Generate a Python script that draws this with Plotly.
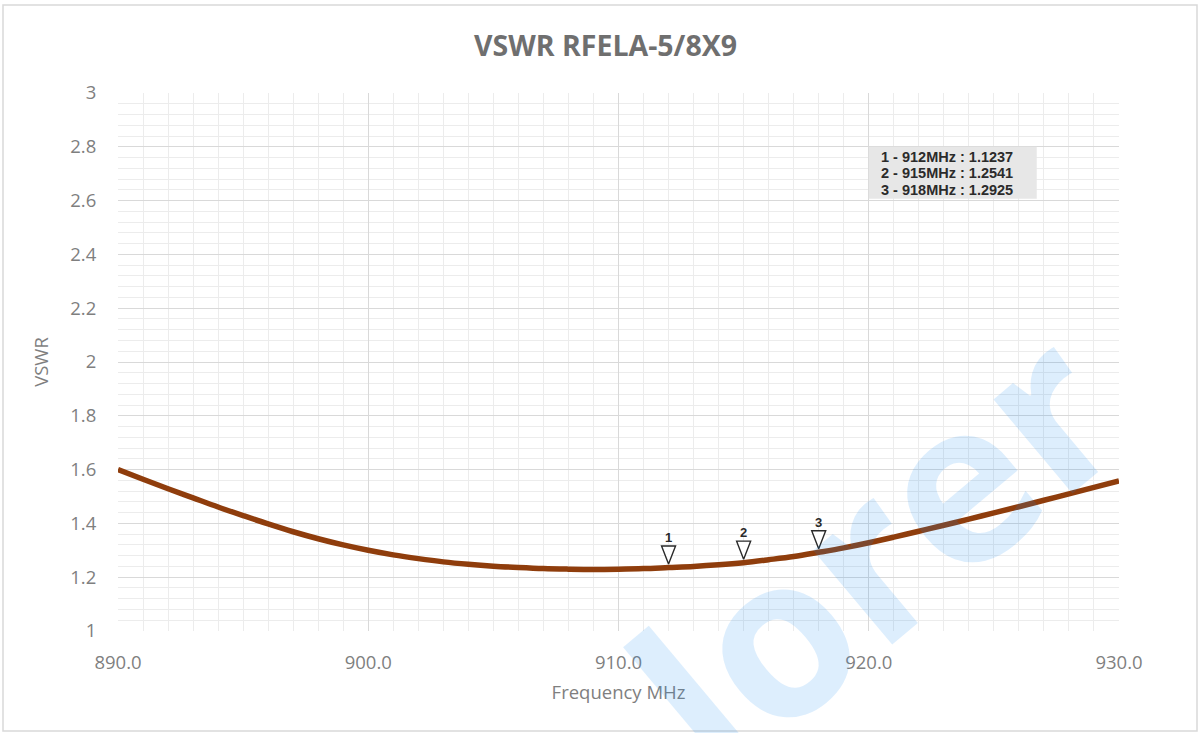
import plotly.graph_objects as go

# ---- data ----
freq_mhz = [890, 891, 892, 893, 894, 895, 896, 897, 898, 899,
            900, 901, 902, 903, 904, 905, 906, 907, 908, 909,
            910, 911, 912, 913, 914, 915, 916, 917, 918, 919,
            920, 921, 922, 923, 924, 925, 926, 927, 928, 929, 930]
vswr = [1.600, 1.564, 1.529, 1.495, 1.461, 1.429, 1.398, 1.369, 1.343, 1.320,
        1.300, 1.283, 1.269, 1.257, 1.248, 1.241, 1.236, 1.232, 1.230, 1.229,
        1.230, 1.232, 1.236, 1.240, 1.246, 1.254, 1.265, 1.277, 1.2925, 1.309,
        1.328, 1.349, 1.371, 1.393, 1.416, 1.439, 1.462, 1.486, 1.510, 1.534, 1.558]

marker_labels = ["1", "2", "3"]
marker_freq = [912, 915, 918]
marker_vswr = [1.236, 1.254, 1.2925]
marker_text = ["1 - 912MHz : 1.1237", "2 - 915MHz : 1.2541", "3 - 918MHz : 1.2925"]

x_ticks = [890, 900, 910, 920, 930]
x_ticklabels = ["890.0", "900.0", "910.0", "920.0", "930.0"]
y_ticks = [1, 1.2, 1.4, 1.6, 1.8, 2, 2.2, 2.4, 2.6, 2.8, 3]
y_ticklabels = ["1", "1.2", "1.4", "1.6", "1.8", "2", "2.2", "2.4", "2.6", "2.8", "3"]

title_text = "VSWR RFELA-5/8X9"
x_title = "Frequency MHz"
y_title = "VSWR"

# ---- figure geometry ----
W, H = 1203, 733
ml, mr, mt, mb = 118, 84, 93, 102
pw, ph = W - ml - mr, H - mt - mb
x0, x1 = 890, 930
y0, y1 = 1, 3
px_per_mhz = pw / (x1 - x0)
px_per_unit = ph / (y1 - y0)

fig = go.Figure()

fig.add_trace(go.Scatter(
    x=freq_mhz, y=vswr, mode="lines",
    line=dict(color="#8f3d0c", width=5.5, shape="spline", smoothing=1.0),
    hoverinfo="skip", showlegend=False,
))

# marker triangles (tip just above the curve), built from the marker data
tip_gap = 3.5 / px_per_unit
tri_h = 18 / px_per_unit
tri_hw = 7 / px_per_mhz
tx, ty = [], []
for f, v in zip(marker_freq, marker_vswr):
    tip = v + tip_gap
    tx += [f, f - tri_hw, f + tri_hw, f, None]
    ty += [tip, tip + tri_h, tip + tri_h, tip, None]
fig.add_trace(go.Scatter(
    x=tx, y=ty, mode="lines", fill="toself", fillcolor="white",
    line=dict(color="#2a2a2a", width=1.4),
    hoverinfo="skip", showlegend=False,
))
for lab, f, v in zip(marker_labels, marker_freq, marker_vswr):
    fig.add_annotation(
        x=f, y=v + tip_gap + tri_h, xref="x", yref="y",
        text="<b>" + lab + "</b>", showarrow=False, yanchor="bottom", yshift=-1,
        font=dict(family="Liberation Sans", size=13, color="#2a2a2a"),
    )

gray = "#7f7f7f"
tickfont = dict(family="Open Sans", size=18.5, color=gray)

fig.update_layout(
    width=W, height=H,
    margin=dict(l=ml, r=mr, t=mt, b=mb),
    paper_bgcolor="white", plot_bgcolor="white",
    title=dict(text="<b>" + title_text + "</b>",
               x=(605.5 - ml) / pw, xanchor="center", xref="paper",
               y=1 - 46 / H, yanchor="middle",
               font=dict(family="Open Sans", size=28.5, color="#6f6f6f")),
    xaxis=dict(
        range=[x0, x1], tickvals=x_ticks, ticktext=x_ticklabels,
        tickfont=tickfont, showgrid=True, gridcolor="#d9d9d9", gridwidth=1.3,
        zeroline=False, showline=False, ticks="outside", ticklen=15, tickcolor="rgba(0,0,0,0)",
        minor=dict(dtick=1, showgrid=True, gridcolor="#ececec", gridwidth=1, ticks=""),
        title=dict(text=x_title, font=dict(family="Open Sans", size=18.5, color=gray),
                   standoff=12),
    ),
    yaxis=dict(
        range=[y0, y1], tickvals=y_ticks, ticktext=y_ticklabels,
        tickfont=tickfont, showgrid=True, gridcolor="#d9d9d9", gridwidth=1.3,
        zeroline=False, showline=False, ticks="outside", ticklen=17, tickcolor="rgba(0,0,0,0)",
        minor=dict(dtick=0.04, tick0=1, showgrid=True, gridcolor="#ececec", gridwidth=1, ticks=""),
        title=dict(text=y_title, font=dict(family="Open Sans", size=18.5, color=gray),
                   standoff=16),
    ),
)

# marker values box
box_left, box_top = 920, 2.80
box_w = 168 / px_per_mhz
box_h = 52 / px_per_unit
fig.add_shape(type="rect", xref="x", yref="y",
              x0=box_left, x1=box_left + box_w, y0=box_top - box_h, y1=box_top,
              line=dict(width=0), fillcolor="#e7e7e7", layer="above")
for i, t in enumerate(marker_text):
    fig.add_annotation(
        x=box_left + 10 / px_per_mhz, y=box_top - (10 + 16.5 * i) / px_per_unit,
        xref="x", yref="y", xanchor="left", yanchor="middle",
        text="<b>" + t + "</b>", showarrow=False,
        font=dict(family="Liberation Sans", size=14.5, color="#2b2b2b"),
    )

# outer chart border
fig.add_shape(type="rect", xref="paper", yref="paper",
              x0=(3 - ml) / pw, x1=(1197 - ml) / pw,
              y0=(H - mb - 731) / ph, y1=(H - mb - 5) / ph,
              line=dict(color="#d9d9d9", width=1.5), fillcolor="rgba(0,0,0,0)",
              layer="below")

# watermark
fig.add_annotation(
    x=(872 - ml) / pw, y=(H - mb - 548) / ph, xref="paper", yref="paper",
    xanchor="center", yanchor="middle",
    text="<b>lorer</b>", showarrow=False, textangle=-40,
    font=dict(family="Open Sans", size=225, color="rgba(30,140,240,0.15)"),
)

fig.write_html("out.html", config={"displayModeBar": False},
               post_script="document.body.style.margin='0px';")
